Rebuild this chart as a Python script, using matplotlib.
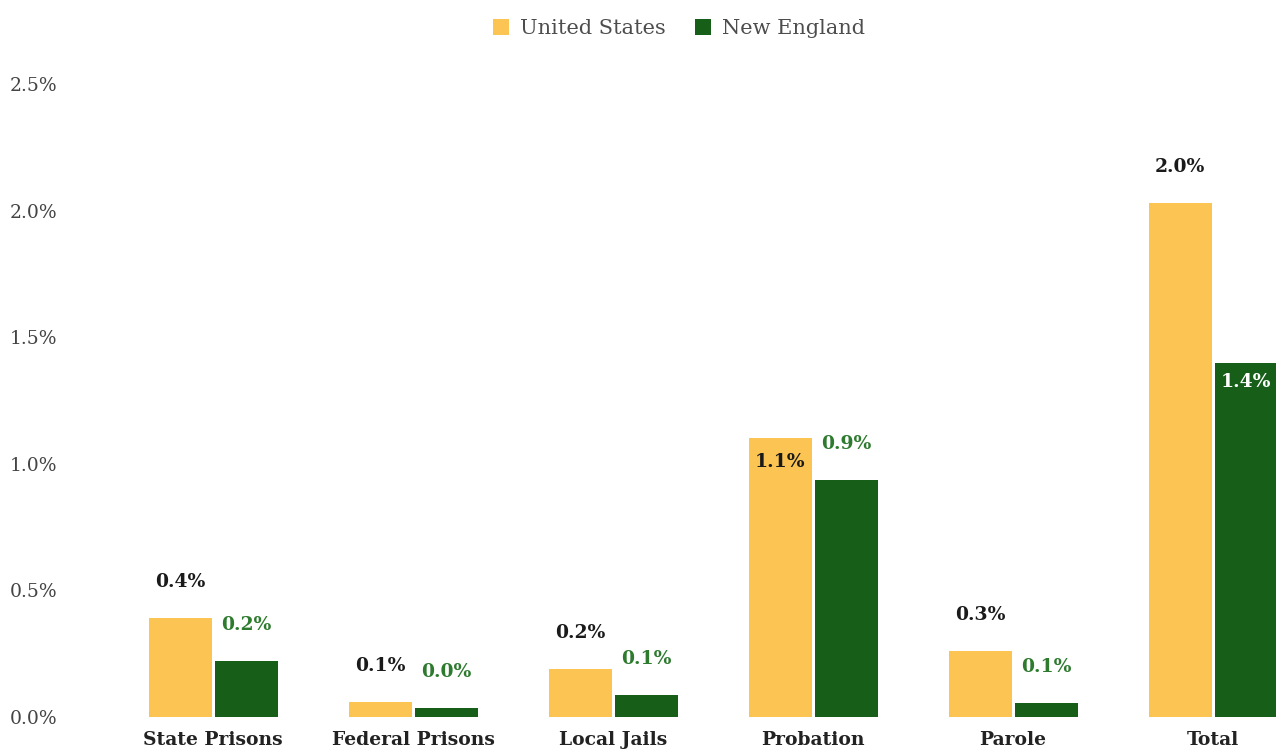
import numpy as np
import matplotlib.pyplot as plt

categories = ["State Prisons", "Federal Prisons", "Local Jails", "Probation", "Parole", "Total"]
us_values = [0.39, 0.06, 0.19, 1.10, 0.26, 2.03]
ne_values = [0.22, 0.036, 0.085, 0.935, 0.055, 1.40]
us_labels = ["0.4%", "0.1%", "0.2%", "1.1%", "0.3%", "2.0%"]
ne_labels = ["0.2%", "0.0%", "0.1%", "0.9%", "0.1%", "1.4%"]
us_inside = [False, False, False, True, False, False]
ne_inside = [False, False, False, False, False, True]
yticks = [0.0, 0.5, 1.0, 1.5, 2.0, 2.5]

YELLOW = "#FCC553"
GREEN = "#175E18"
SERIF = "DejaVu Serif"

fig = plt.figure(figsize=(12.76, 7.51), dpi=100)
ax = fig.add_axes([93 / 1276, 1 - 717 / 751, (1276 - 93) / 1276, (717 - 84) / 751])

x = np.arange(len(categories))
w = 0.315
off = 0.165
b1 = ax.bar(x - off, us_values, w, color=YELLOW, label="United States")
b2 = ax.bar(x + off, ne_values, w, color=GREEN, label="New England")

for rect, lab, inside in zip(b1, us_labels, us_inside):
    cx = rect.get_x() + rect.get_width() / 2
    top = rect.get_height()
    dy = -17 if inside else 26
    ax.annotate(lab, (cx, top), xytext=(0, dy), textcoords="offset points",
                ha="center", va="center", fontsize=13.5, fontweight="bold",
                family=SERIF, color="#1a1a1a")

for rect, lab, inside in zip(b2, ne_labels, ne_inside):
    cx = rect.get_x() + rect.get_width() / 2
    top = rect.get_height()
    dy = -14 if inside else 26
    col = "white" if inside else "#2E7A2F"
    ax.annotate(lab, (cx, top), xytext=(0, dy), textcoords="offset points",
                ha="center", va="center", fontsize=13.5, fontweight="bold",
                family=SERIF, color=col)

ax.set_xlim(-0.6, 5.315)
ax.set_ylim(0, 2.5)
ax.set_yticks(yticks)
ax.set_yticklabels([f"{v:.1f}%" for v in yticks], family=SERIF, fontsize=13.5, color="#444444")
for t in ax.get_yticklabels():
    t.set_ha("left")
ax.tick_params(axis="y", length=0, pad=60)
ax.set_xticks(x)
ax.set_xticklabels(categories, family=SERIF, fontsize=13.5, fontweight="bold", color="#222222")
ax.tick_params(axis="x", length=0, pad=10)

for s in ax.spines.values():
    s.set_visible(False)

leg = fig.legend(loc="upper center", bbox_to_anchor=(0.532, 1.0), ncol=2, frameon=False,
                 prop={"family": SERIF, "size": 15}, handlelength=0.8, handleheight=0.8,
                 handletextpad=0.5, columnspacing=1.4)
for t in leg.get_texts():
    t.set_color("#4d4d4d")

fig.savefig("out.png", dpi=100)
